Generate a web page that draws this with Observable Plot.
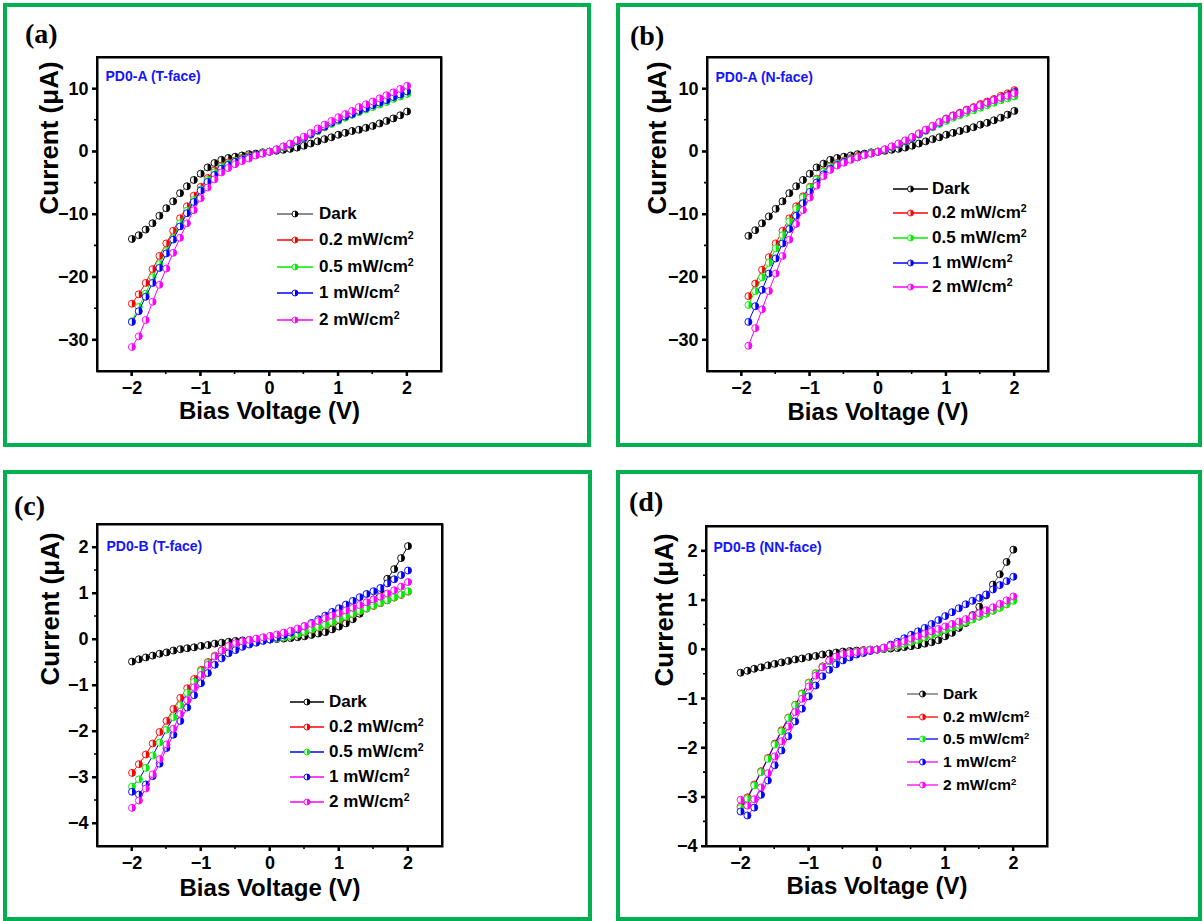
<!DOCTYPE html>
<html>
<head>
<meta charset="utf-8">
<script src="https://cdn.jsdelivr.net/npm/d3@7"></script>
<script src="https://cdn.jsdelivr.net/npm/@observablehq/plot@0.6"></script>
<style>
  body { margin: 0; background: #fff; }
  #fig { position: relative; width: 1204px; height: 921px; overflow: hidden; font-family: "Liberation Sans", Arial, sans-serif; }
  .box { position: absolute; box-sizing: border-box; border: 4px solid #00b050; z-index: 0; }
  .plab { position: absolute; font-family: "Liberation Serif", "Times New Roman", serif; font-weight: bold; font-size: 28px; line-height: 1; z-index: 4; }
  .leg { position: absolute; display: flex; align-items: center; font-weight: bold; color: #000; white-space: nowrap; z-index: 4; }
  .leg svg { display: block; }
  .leg sup { font-size: 0.62em; vertical-align: 0.55em; line-height: 0; }
  .edges { position: absolute; z-index: 5; pointer-events: none; overflow: visible; }
</style>
</head>
<body>
<div id="fig"></div>
<script>
// Bias sweeps (V)
const voltsFull = [-2, -1.9, -1.8, -1.7, -1.6, -1.5, -1.4, -1.3, -1.2, -1.1, -1, -0.9, -0.8, -0.7, -0.6, -0.5, -0.4, -0.3, -0.2, -0.1, 0,
  0.1, 0.2, 0.3, 0.4, 0.5, 0.6, 0.7, 0.8, 0.9, 1, 1.1, 1.2, 1.3, 1.4, 1.5, 1.6, 1.7, 1.8, 1.9, 2];
const voltsB = [-1.9, -1.8, -1.7, -1.6, -1.5, -1.4, -1.3, -1.2, -1.1, -1, -0.9, -0.8, -0.7, -0.6, -0.5, -0.4, -0.3, -0.2, -0.1, 0,
  0.1, 0.2, 0.3, 0.4, 0.5, 0.6, 0.7, 0.8, 0.9, 1, 1.1, 1.2, 1.3, 1.4, 1.5, 1.6, 1.7, 1.8, 1.9, 2];

// Legend entries (illumination intensity)
const seriesNames = ["Dark", "0.2 mW/cm", "0.5 mW/cm", "1 mW/cm", "2 mW/cm"];
const seriesSup = ["", "2", "2", "2", "2"];
const markerColors = ["#000000", "#ff0000", "#00ee00", "#0000ff", "#ff00ff"];

// (a) PD0-A, T-face — current in µA
const aDark = [-13.9, -13.3, -12.4, -11.4, -10.2, -9.0, -7.9, -6.6, -5.5, -4.5, -3.5, -2.5, -1.8, -1.3, -1.0, -0.8, -0.6, -0.4, -0.3, -0.1, 0.0,
  0.15, 0.3, 0.45, 0.65, 0.95, 1.3, 1.65, 2.0, 2.3, 2.7, 3.0, 3.3, 3.5, 3.8, 4.1, 4.5, 4.9, 5.3, 5.8, 6.4];
const a02 = [-24.2, -22.7, -20.9, -18.7, -16.6, -14.6, -12.6, -10.6, -8.7, -7.0, -5.6, -4.2, -3.0, -2.2, -1.7, -1.4, -1.0, -0.7, -0.5, -0.2, 0.0,
  0.3, 0.7, 1.1, 1.6, 2.1, 2.7, 3.3, 3.9, 4.5, 5.0, 5.5, 5.9, 6.4, 6.8, 7.2, 7.6, 8.0, 8.5, 8.9, 9.3];
const a05 = [-27.0, -24.7, -22.6, -20.0, -17.9, -15.8, -13.8, -11.4, -9.4, -7.7, -6.0, -4.5, -3.3, -2.4, -1.9, -1.5, -1.1, -0.8, -0.5, -0.2, 0.0,
  0.3, 0.7, 1.1, 1.6, 2.1, 2.7, 3.3, 3.9, 4.4, 4.9, 5.4, 5.9, 6.3, 6.7, 7.1, 7.5, 7.9, 8.4, 8.8, 9.2];
const a1 = [-27.1, -25.4, -23.1, -20.9, -18.5, -16.2, -14.0, -11.9, -9.8, -8.0, -6.2, -4.8, -3.7, -2.7, -2.1, -1.6, -1.2, -0.9, -0.5, -0.3, 0.0,
  0.35, 0.8, 1.2, 1.7, 2.2, 2.8, 3.4, 4.0, 4.6, 5.1, 5.6, 6.0, 6.5, 6.9, 7.4, 7.8, 8.2, 8.7, 9.1, 9.6];
const a2 = [-31.1, -29.4, -26.8, -23.9, -21.2, -18.6, -16.1, -13.7, -11.4, -9.3, -7.4, -5.7, -4.4, -3.3, -2.6, -2.0, -1.5, -1.1, -0.6, -0.3, 0.0,
  0.4, 0.85, 1.3, 1.85, 2.4, 3.0, 3.7, 4.3, 4.9, 5.5, 6.0, 6.5, 7.1, 7.55, 8.0, 8.5, 9.0, 9.45, 10.0, 10.5];

// (b) PD0-A, N-face — current in µA
const bDark = [-13.4, -12.5, -11.4, -10.3, -9.1, -7.9, -6.6, -5.5, -4.5, -3.5, -2.5, -1.9, -1.3, -1.0, -0.8, -0.6, -0.4, -0.3, -0.1, 0.0,
  0.15, 0.3, 0.45, 0.65, 0.95, 1.3, 1.65, 2.0, 2.3, 2.7, 3.0, 3.3, 3.6, 3.9, 4.3, 4.6, 5.0, 5.4, 5.9, 6.5];
const b02 = [-23.0, -21.0, -18.8, -16.8, -14.6, -12.6, -10.6, -8.7, -7.1, -5.6, -4.3, -3.1, -2.3, -1.8, -1.4, -1.0, -0.7, -0.5, -0.2, 0.0,
  0.35, 0.8, 1.25, 1.75, 2.3, 2.9, 3.5, 4.1, 4.7, 5.3, 5.8, 6.2, 6.7, 7.1, 7.6, 8.0, 8.4, 8.9, 9.3, 9.8];
const b05 = [-24.4, -22.2, -20.0, -17.7, -15.4, -13.3, -11.1, -9.1, -7.3, -5.7, -4.4, -3.2, -2.4, -1.9, -1.5, -1.1, -0.8, -0.5, -0.2, 0.0,
  0.3, 0.7, 1.1, 1.6, 2.1, 2.7, 3.3, 3.9, 4.4, 4.9, 5.4, 5.8, 6.2, 6.6, 7.0, 7.4, 7.8, 8.2, 8.5, 8.8];
const b1 = [-27.1, -24.6, -22.0, -19.4, -17.0, -14.6, -12.3, -10.2, -8.2, -6.4, -4.9, -3.6, -2.7, -2.1, -1.6, -1.2, -0.9, -0.5, -0.3, 0.0,
  0.35, 0.8, 1.2, 1.7, 2.2, 2.8, 3.4, 4.0, 4.6, 5.2, 5.7, 6.1, 6.6, 7.0, 7.4, 7.8, 8.2, 8.6, 9.0, 9.5];
const b2 = [-30.9, -28.1, -25.1, -22.2, -19.4, -16.6, -14.0, -11.5, -9.3, -7.3, -5.4, -3.9, -2.9, -2.2, -1.75, -1.3, -0.9, -0.55, -0.3, 0.0,
  0.4, 0.85, 1.3, 1.8, 2.35, 2.9, 3.5, 4.1, 4.7, 5.2, 5.7, 6.1, 6.6, 7.0, 7.4, 7.8, 8.2, 8.6, 8.9, 9.3];

// (c) PD0-B, T-face — current in µA
const cDark = [-0.48, -0.43, -0.39, -0.35, -0.31, -0.28, -0.24, -0.21, -0.19, -0.17, -0.14, -0.12, -0.09, -0.07, -0.05, -0.03, -0.02, -0.01, 0.0, 0.0, 0.0,
  0.01, 0.02, 0.03, 0.05, 0.07, 0.1, 0.13, 0.16, 0.22, 0.28, 0.35, 0.44, 0.56, 0.7, 0.87, 1.07, 1.32, 1.53, 1.77, 2.03];
const c02 = [-2.9, -2.71, -2.5, -2.26, -2.01, -1.77, -1.51, -1.27, -1.06, -0.86, -0.66, -0.49, -0.35, -0.24, -0.15, -0.09, -0.06, -0.03, -0.02, -0.01, 0.0,
  0.02, 0.05, 0.08, 0.11, 0.16, 0.21, 0.26, 0.31, 0.37, 0.43, 0.49, 0.55, 0.61, 0.67, 0.73, 0.79, 0.85, 0.91, 0.97, 1.04];
const c05 = [-3.2, -3.04, -2.79, -2.52, -2.24, -1.96, -1.69, -1.43, -1.16, -0.92, -0.69, -0.51, -0.36, -0.25, -0.16, -0.1, -0.06, -0.04, -0.02, -0.01, 0.0,
  0.02, 0.05, 0.08, 0.12, 0.17, 0.22, 0.27, 0.32, 0.38, 0.44, 0.5, 0.56, 0.62, 0.68, 0.74, 0.8, 0.86, 0.92, 0.98, 1.05];
const c1 = [-3.31, -3.37, -3.15, -2.97, -2.7, -2.36, -2.07, -1.77, -1.48, -1.21, -0.95, -0.73, -0.55, -0.41, -0.3, -0.23, -0.16, -0.11, -0.07, -0.03, 0.0,
  0.04, 0.09, 0.15, 0.22, 0.29, 0.36, 0.44, 0.52, 0.6, 0.68, 0.76, 0.84, 0.92, 0.99, 1.05, 1.12, 1.22, 1.31, 1.4, 1.5];
const c2 = [-3.66, -3.5, -3.24, -2.93, -2.6, -2.28, -1.94, -1.62, -1.32, -1.04, -0.77, -0.55, -0.37, -0.24, -0.14, -0.08, -0.04, -0.01, 0.02, 0.05, 0.08,
  0.11, 0.15, 0.19, 0.24, 0.29, 0.34, 0.4, 0.46, 0.52, 0.57, 0.63, 0.69, 0.75, 0.81, 0.87, 0.93, 1.0, 1.07, 1.15, 1.25];

// (d) PD0-B, NN-face — current in µA
const dDark = [-0.47, -0.43, -0.39, -0.36, -0.32, -0.29, -0.26, -0.23, -0.2, -0.18, -0.15, -0.13, -0.1, -0.08, -0.06, -0.04, -0.03, -0.02, -0.01, 0.0, 0.0,
  0.01, 0.02, 0.03, 0.05, 0.07, 0.09, 0.12, 0.15, 0.19, 0.27, 0.34, 0.44, 0.54, 0.7, 0.87, 1.1, 1.32, 1.53, 1.78, 2.03];
const d02 = [-3.19, -3.0, -2.74, -2.47, -2.2, -1.91, -1.64, -1.38, -1.12, -0.89, -0.67, -0.48, -0.34, -0.23, -0.15, -0.1, -0.07, -0.04, -0.02, -0.01, 0.0,
  0.02, 0.05, 0.08, 0.12, 0.16, 0.2, 0.25, 0.3, 0.35, 0.4, 0.45, 0.5, 0.56, 0.62, 0.67, 0.73, 0.79, 0.85, 0.92, 1.0];
const d05 = [-3.22, -3.03, -2.76, -2.49, -2.22, -1.93, -1.66, -1.39, -1.13, -0.9, -0.68, -0.49, -0.35, -0.24, -0.16, -0.1, -0.07, -0.04, -0.02, -0.01, 0.0,
  0.02, 0.05, 0.08, 0.12, 0.16, 0.2, 0.25, 0.3, 0.35, 0.4, 0.45, 0.5, 0.56, 0.61, 0.67, 0.73, 0.79, 0.85, 0.92, 0.99];
const d1 = [-3.29, -3.37, -3.21, -2.95, -2.66, -2.35, -2.05, -1.76, -1.46, -1.2, -0.95, -0.73, -0.54, -0.41, -0.3, -0.22, -0.16, -0.1, -0.07, -0.03, 0.0,
  0.04, 0.1, 0.16, 0.23, 0.3, 0.37, 0.44, 0.52, 0.6, 0.68, 0.76, 0.84, 0.92, 0.99, 1.05, 1.12, 1.22, 1.31, 1.39, 1.48];
const d2 = [-3.05, -3.17, -3.04, -2.8, -2.51, -2.17, -1.86, -1.56, -1.27, -1.0, -0.75, -0.53, -0.36, -0.22, -0.14, -0.09, -0.07, -0.05, -0.03, -0.01, 0.0,
  0.04, 0.08, 0.12, 0.17, 0.22, 0.27, 0.32, 0.37, 0.42, 0.47, 0.52, 0.57, 0.62, 0.68, 0.74, 0.8, 0.86, 0.93, 1.0, 1.08];

// Axis ticks
const xMajor = [-2, -1, 0, 1, 2];
const xMinor = [-1.5, -0.5, 0.5, 1.5];
const xEdges = [-2.5, 2.5];
const yMajorA = [-30, -20, -10, 0, 10];
const yMinorA = [-25, -15, -5, 5];
const yMajorC = [-4, -3, -2, -1, 0, 1, 2];
const yMinorC = [-3.5, -2.5, -1.5, -0.5, 0.5, 1.5];
const yMinorD = [-3.5, -2.5, -1.5, -0.5, 0.5, 1.5];

// Marker: open circle whose right half is filled
const halfRight = {
  draw(context, size) {
    const r = Math.sqrt(size / Math.PI);
    context.moveTo(0, -r);
    context.arc(0, 0, r, -Math.PI / 2, Math.PI / 2);
    context.closePath();
  }
};

const panels = [
  { id: "(a)", tag: "PD0-A (T-face)", volts: voltsFull, series: [aDark, a02, a05, a1, a2],
    lineColors: ["#666666", "#ff0000", "#00ee00", "#0000ff", "#ff00ff"],
    box: [3, 3, 591, 447], frame: [97, 57, 441, 371], yDomain: [-35, 15], yMajor: yMajorA, yMinor: yMinorA,
    lab: [25, 20], tagOff: [8, 14], xTitleDy: 47, yTitleDx: -48,
    legend: { lineL: 277, lineR: 313, textL: 319, rows: [214, 240, 267, 293, 320], fs: 17 } },
  { id: "(b)", tag: "PD0-A (N-face)", volts: voltsB, series: [bDark, b02, b05, b1, b2],
    lineColors: ["#000000", "#ff0000", "#00ee00", "#0000ff", "#ff00ff"],
    box: [616, 3, 1202, 447], frame: [707, 57, 1048, 371], yDomain: [-35, 15], yMajor: yMajorA, yMinor: yMinorA,
    lab: [630, 22], tagOff: [8, 15], xTitleDy: 48, yTitleDx: -50,
    legend: { lineL: 893, lineR: 928, textL: 932, rows: [189, 213, 238, 263, 287], fs: 17 } },
  { id: "(c)", tag: "PD0-B (T-face)", volts: voltsFull, series: [cDark, c02, c05, c1, c2],
    lineColors: ["#000000", "#ff0000", "#0000ff", "#ff00ff", "#ff00ff"],
    box: [3, 470, 592, 921], frame: [97, 524, 442, 846], yDomain: [-4.5, 2.5], yMajor: yMajorC, yMinor: yMinorC,
    lab: [14, 492], tagOff: [9, 17], xTitleDy: 49, yTitleDx: -47,
    legend: { lineL: 290, lineR: 324, textL: 329, rows: [702, 727, 752, 777, 802], fs: 17 } },
  { id: "(d)", tag: "PD0-B (NN-face)", volts: voltsFull, series: [dDark, d02, d05, d1, d2],
    lineColors: ["#666666", "#ff0000", "#0000ff", "#ff00ff", "#ff00ff"],
    box: [616, 470, 1202, 921], frame: [706, 526, 1047, 846], yDomain: [-4, 2.5], yMajor: yMajorC, yMinor: yMinorD,
    lab: [629, 488], tagOff: [7, 16], xTitleDy: 47, yTitleDx: -42,
    legend: { lineL: 907, lineR: 938, textL: 943, rows: [694, 717, 739, 762, 785], fs: 15.5 } }
];

const fig = document.getElementById("fig");
const ns = "http://www.w3.org/2000/svg";
const fontStyle = { fontFamily: "'Liberation Sans', Arial, sans-serif", background: "transparent", overflow: "visible", color: "black" };

function svgEl(tag, attrs) {
  const el = document.createElementNS(ns, tag);
  for (const k in attrs) el.setAttribute(k, attrs[k]);
  return el;
}

for (const p of panels) {
  const [x0, y0, x1, y1] = p.box;
  const [fl, ft, fr, fb] = p.frame;
  const dims = {
    width: x1 - x0, height: y1 - y0,
    marginLeft: fl - x0, marginTop: ft - y0, marginRight: x1 - fr, marginBottom: y1 - fb
  };

  const box = document.createElement("div");
  box.className = "box";
  Object.assign(box.style, { left: x0 + "px", top: y0 + "px", width: (x1 - x0) + "px", height: (y1 - y0) + "px" });
  fig.appendChild(box);

  // data layer: connecting lines and half-filled markers
  const dataMarks = [];
  p.series.forEach((vals, i) => {
    const rows = p.volts.map((v, k) => ({ v, c: vals[k] }));
    dataMarks.push(Plot.line(rows, { x: "v", y: "c", stroke: p.lineColors[i], strokeWidth: 1 }));
    dataMarks.push(Plot.dot(rows, { x: "v", y: "c", r: 3.5, fill: "white", stroke: markerColors[i], strokeWidth: 0.9 }));
    dataMarks.push(Plot.dot(rows, { x: "v", y: "c", r: 3.5, symbol: halfRight, fill: markerColors[i] }));
  });
  const dataLayer = Plot.plot({
    ...dims,
    x: { domain: xEdges, axis: null },
    y: { domain: p.yDomain, axis: null },
    style: fontStyle,
    marks: dataMarks
  });
  Object.assign(dataLayer.style, { position: "absolute", left: x0 + "px", top: y0 + "px", zIndex: 1 });
  fig.appendChild(dataLayer);

  // axes layer: tick labels, titles, annotation
  const axisLayer = Plot.plot({
    ...dims,
    x: { domain: xEdges },
    y: { domain: p.yDomain },
    style: fontStyle,
    marks: [
      Plot.frame({ stroke: "black", strokeWidth: 2 }),
      Plot.axisX(xMajor, { anchor: "bottom", tickSize: 5, strokeWidth: 2, tickPadding: 5, fontSize: 18, fontWeight: "bold", label: null }),
      Plot.axisY(p.yMajor, { anchor: "left", tickSize: 5, strokeWidth: 2, tickPadding: 4, fontSize: 18, fontWeight: "bold", label: null }),
      Plot.text([p.tag], { frameAnchor: "top-left", textAnchor: "start", dx: p.tagOff[0], dy: p.tagOff[1],
        fill: "#1414ff", fontSize: 14, fontWeight: "bold" }),
      Plot.text(["Bias Voltage (V)"], { frameAnchor: "bottom", dy: p.xTitleDy, fontSize: 24, fontWeight: "bold", fill: "black" }),
      Plot.text(["Current (μA)"], { frameAnchor: "left", rotate: -90, dx: p.yTitleDx, fontSize: 26, fontWeight: "bold", fill: "black" })
    ]
  });
  Object.assign(axisLayer.style, { position: "absolute", left: x0 + "px", top: y0 + "px", zIndex: 2 });
  fig.appendChild(axisLayer);

  // plot box and outward ticks, positioned with the chart's own x / y scales
  const sx = axisLayer.scale("x");
  const sy = axisLayer.scale("y");
  const X = v => sx.apply(v), Y = v => sy.apply(v);
  const edges = svgEl("svg", { width: dims.width, height: dims.height, class: "edges" });
  Object.assign(edges.style, { left: x0 + "px", top: y0 + "px" });
  const xl = X(xEdges[0]), xr = X(xEdges[1]), yb = Y(p.yDomain[0]), yt = Y(p.yDomain[1]);
  let d = "";
  for (const v of xMajor) d += `M${X(v)},${yb}v5`;
  for (const v of p.yMajor) d += `M${xl},${Y(v)}h-5`;
  edges.appendChild(svgEl("path", { d, stroke: "black", "stroke-width": 2, fill: "none" }));
  let dm = "";
  for (const v of xMinor) dm += `M${X(v)},${yb}v3`;
  for (const v of p.yMinor) dm += `M${xl},${Y(v)}h-3`;
  edges.appendChild(svgEl("path", { d: dm, stroke: "black", "stroke-width": 1.6, fill: "none" }));
  edges.appendChild(svgEl("path", { d: `M${xl},${yb}H${xr}V${yt}H${xl}Z`, stroke: "black", "stroke-width": 2, fill: "none", "stroke-linejoin": "miter" }));
  fig.appendChild(edges);

  const lab = document.createElement("div");
  lab.className = "plab";
  lab.textContent = p.id;
  Object.assign(lab.style, { left: p.lab[0] + "px", top: p.lab[1] + "px" });
  fig.appendChild(lab);

  // legend
  const L = p.legend;
  seriesNames.forEach((name, i) => {
    const row = document.createElement("div");
    row.className = "leg";
    row.style.left = L.lineL + "px";
    row.style.top = (L.rows[i] - 10) + "px";
    row.style.height = "20px";
    row.style.fontSize = L.fs + "px";
    const w = L.lineR - L.lineL;
    const svg = svgEl("svg", { width: w, height: 12 });
    svg.style.marginRight = (L.textL - L.lineR) + "px";
    svg.appendChild(svgEl("line", { x1: 0, x2: w, y1: 6, y2: 6, stroke: p.lineColors[i], "stroke-width": 1.3 }));
    svg.appendChild(svgEl("circle", { cx: w / 2, cy: 6, r: 3, fill: "white", stroke: markerColors[i], "stroke-width": 0.9 }));
    svg.appendChild(svgEl("path", { d: `M${w / 2},3 A3,3 0 0 1 ${w / 2},9 Z`, fill: markerColors[i] }));
    row.appendChild(svg);
    const span = document.createElement("span");
    span.textContent = name;
    if (seriesSup[i]) {
      const sup = document.createElement("sup");
      sup.textContent = seriesSup[i];
      span.appendChild(sup);
    }
    row.appendChild(span);
    fig.appendChild(row);
  });
}
</script>
</body>
</html>
